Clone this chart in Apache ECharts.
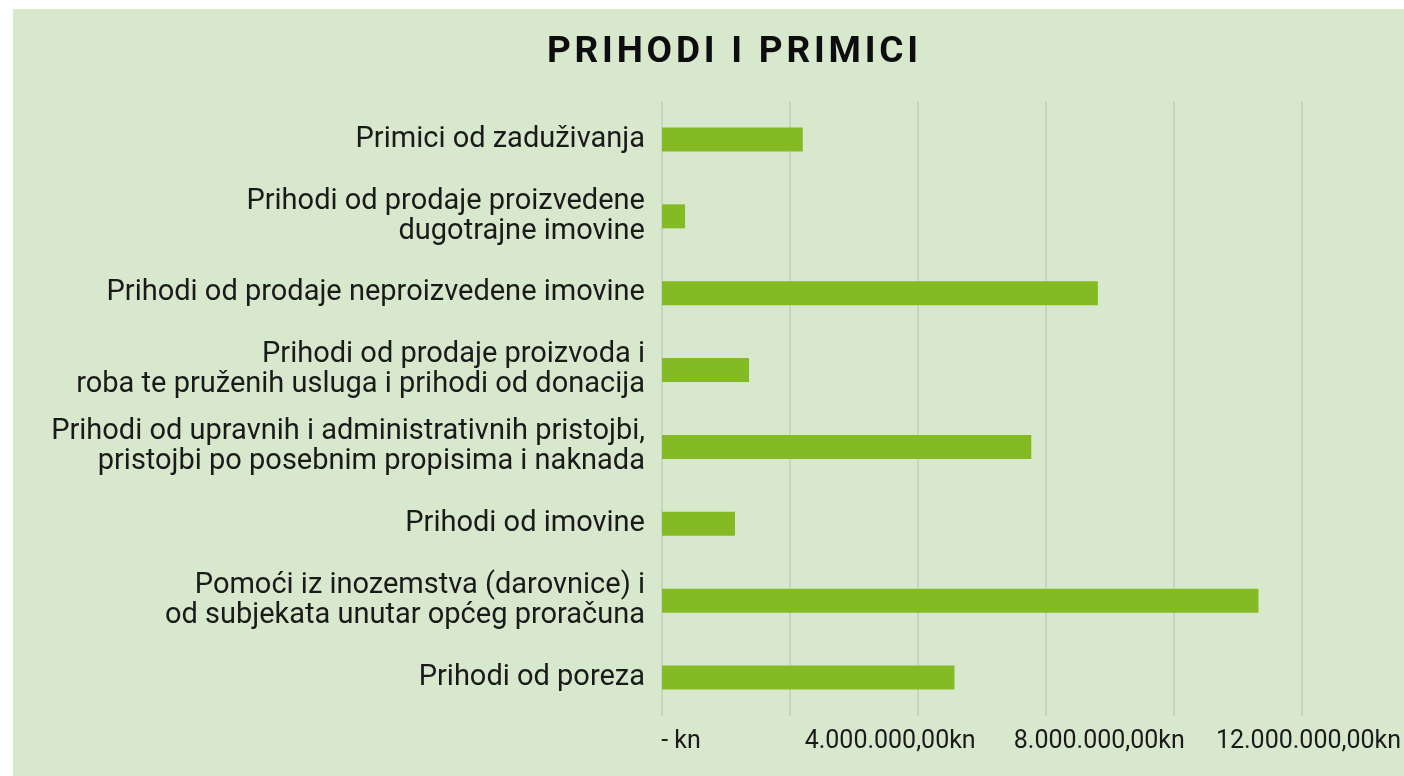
<!DOCTYPE html>
<html>
<head>
<meta charset="utf-8">
<title>Prihodi i primici</title>
<script src="https://cdn.jsdelivr.net/npm/echarts@6/dist/echarts.min.js"></script>
<style>
  html, body { margin: 0; padding: 0; background: #fff; }
  #chart { position: absolute; left: 13px; top: 9px; width: 1391px; height: 767px; }
</style>
</head>
<body>
<div id="chart"></div>
<script>
// kategorije odozgo prema dolje
const categories = [
  'Primici od zaduživanja',
  'Prihodi od prodaje proizvedene\ndugotrajne imovine',
  'Prihodi od prodaje neproizvedene imovine',
  'Prihodi od prodaje proizvoda i\nroba te pruženih usluga i prihodi od donacija',
  'Prihodi od upravnih i administrativnih pristojbi,\npristojbi po posebnim propisima i naknada',
  'Prihodi od imovine',
  'Pomoći iz inozemstva (darovnice) i\nod subjekata unutar općeg proračuna',
  'Prihodi od poreza'
]
const values = [2200000, 360000, 6810000, 1360000, 5770000, 1140000, 9320000, 4570000]
const tickLabels = ['- kn', '4.000.000,00kn', '8.000.000,00kn', '12.000.000,00kn']

const green = '#84bb25'
const bg = '#d7e8cd'
const font = 'Roboto'
const hs = '\u200a' // razmak izmedju slova naslova

let myChart = echarts.init(document.getElementById('chart'))

let option = {
  backgroundColor: bg,
  title: {
    text: ['PRIHODI', 'I', 'PRIMICI'].map(w => w.split('').join(hs)).join(hs + ' ' + hs),
    left: 529,
    top: 20,
    textStyle: { fontFamily: font, fontWeight: 'bold', fontSize: 37, color: '#0d0d10' }
  },
  grid: [
    { left: 649, right: 102, top: 92, bottom: 60 },
    // samo za oznake osi, kao na originalu
    { left: 668, right: 95, top: 92, bottom: 60 }
  ],
  xAxis: [
    {
      gridIndex: 0,
      type: 'value',
      min: 0,
      max: 10000000,
      interval: 2000000,
      axisLine: { show: false },
      axisTick: { show: false },
      axisLabel: { show: false },
      splitLine: { lineStyle: { color: '#c6d5bf', width: 2 } }
    },
    {
      gridIndex: 1,
      type: 'value',
      min: 0,
      max: 12000000,
      interval: 4000000,
      axisLine: { show: false },
      axisTick: { show: false },
      splitLine: { show: false },
      axisLabel: {
        margin: 13,
        fontFamily: font,
        fontSize: 25,
        color: '#1a1a1a',
        formatter: (v) => tickLabels[Math.round(v / 4000000)]
      }
    }
  ],
  yAxis: [
    {
      gridIndex: 0,
      type: 'category',
      inverse: true,
      data: categories,
      axisLine: { show: false },
      axisTick: { show: false },
      axisLabel: {
        margin: 17,
        fontFamily: font,
        fontSize: 29,
        lineHeight: 30,
        color: '#1a1a1a'
      }
    },
    {
      gridIndex: 1,
      type: 'value',
      show: false
    }
  ],
  series: [
    {
      type: 'bar',
      xAxisIndex: 0,
      yAxisIndex: 0,
      data: values,
      barWidth: 24,
      itemStyle: { color: green },
      silent: true
    }
  ],
  animation: false
}

myChart.setOption(option)
</script>
</body>
</html>
